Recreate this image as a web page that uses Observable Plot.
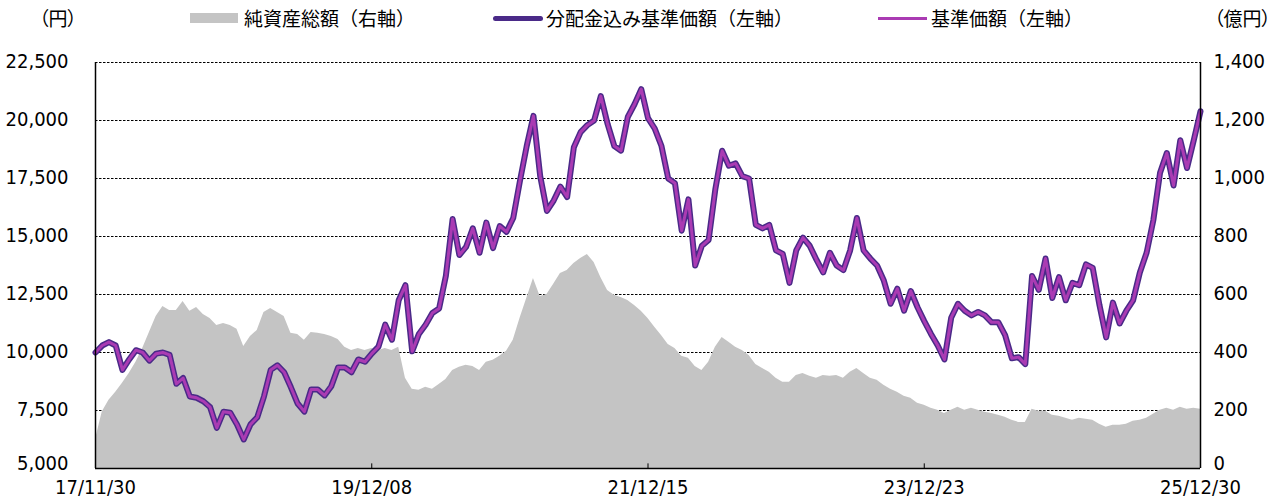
<!DOCTYPE html>
<html>
<head>
<meta charset="utf-8">
<script src="https://cdn.jsdelivr.net/npm/d3@7"></script>
<script src="https://cdn.jsdelivr.net/npm/@observablehq/plot@0.6"></script>
<style>
  body { margin: 0; background: #fff; width: 1274px; height: 499px; overflow: hidden;
         font-family: "Noto Sans CJK JP", sans-serif; }
  #legend { position: relative; height: 36px; width: 1274px; font-size: 19px; color: #000; }
  #legend span { position: absolute; top: 0; line-height: 36px; white-space: nowrap; }
  #legend span.unit { font-feature-settings: "palt"; }
  #legend i { position: absolute; display: block; }
</style>
</head>
<body>
<div id="legend">
  <span class="unit" style="left:39px">（円）</span>
  <i style="left:190px;top:13px;width:48px;height:10px;background:#c4c4c4"></i>
  <span style="left:244px">純資産総額（右軸）</span>
  <i style="left:493px;top:15.5px;width:50px;height:5px;background:#4a2a88;border-radius:2.5px"></i>
  <span style="left:546px">分配金込み基準価額（左軸）</span>
  <i style="left:878px;top:16.5px;width:49px;height:3px;background:#aa3bb3"></i>
  <span style="left:931px">基準価額（左軸）</span>
  <span class="unit" style="left:1214px">（億円）</span>
</div>
<div id="chart"></div>
<script>
// ---- data (one value every 18 days from 2017-11-30) ----
const startDate = "2017-11-30";
const stepDays = 18;

// 分配金込み基準価額（円）
const navWithDist = [
  10000,10300,10450,10300,9250,9700,10100,10000,9650,9950,
  10000,9900,8650,8900,8100,8050,7900,7650,6750,7450,
  7400,6900,6250,6900,7200,8100,9250,9450,9150,8500,
  7800,7450,8400,8400,8150,8550,9350,9350,9150,9700,
  9600,9950,10250,11200,10550,12250,12900,10050,10800,11200,
  11700,11900,13300,15750,14200,14550,15350,14300,15600,14500,
  15450,15200,15800,17400,18900,20200,17600,16100,16550,17150,
  16700,18850,19500,19800,20000,21050,19850,18900,18700,20150,
  20700,21350,20100,19650,18900,17500,17300,15250,16600,13750,
  14600,14850,17050,18700,18050,18150,17600,17500,15500,15350,
  15500,14400,14250,13000,14400,14950,14600,14000,13450,14300,
  13750,13550,14400,15800,14400,14050,13750,13100,12100,12750,
  11800,12650,11950,11350,10800,10300,9700,11500,12100,11800,
  11600,11750,11600,11300,11300,10750,9750,9800,9500,13300,
  12700,14050,12350,13250,12250,13000,12900,13800,13650,12050,
  10650,12150,11250,11800,12250,13450,14300,15700,17750,18600,
  17200,19150,17950,19150,20400
];

// 基準価額（円） — coincides with the line above in the reference
const navBase = [
  10000,10300,10450,10300,9250,9700,10100,10000,9650,9950,
  10000,9900,8650,8900,8100,8050,7900,7650,6750,7450,
  7400,6900,6250,6900,7200,8100,9250,9450,9150,8500,
  7800,7450,8400,8400,8150,8550,9350,9350,9150,9700,
  9600,9950,10250,11200,10550,12250,12900,10050,10800,11200,
  11700,11900,13300,15750,14200,14550,15350,14300,15600,14500,
  15450,15200,15800,17400,18900,20200,17600,16100,16550,17150,
  16700,18850,19500,19800,20000,21050,19850,18900,18700,20150,
  20700,21350,20100,19650,18900,17500,17300,15250,16600,13750,
  14600,14850,17050,18700,18050,18150,17600,17500,15500,15350,
  15500,14400,14250,13000,14400,14950,14600,14000,13450,14300,
  13750,13550,14400,15800,14400,14050,13750,13100,12100,12750,
  11800,12650,11950,11350,10800,10300,9700,11500,12100,11800,
  11600,11750,11600,11300,11300,10750,9750,9800,9500,13300,
  12700,14050,12350,13250,12250,13000,12900,13800,13650,12050,
  10650,12150,11250,11800,12250,13450,14300,15700,17750,18600,
  17200,19150,17950,19150,20400
];

// 純資産総額（億円）
const netAssets = [
  100,195,235,263,294,328,366,414,469,524,
  559,545,545,576,542,555,531,517,493,500,
  493,480,421,455,476,538,552,538,524,466,
  462,442,469,466,462,455,445,418,407,414,
  407,414,407,414,407,418,311,273,270,280,
  273,290,307,338,349,356,352,338,366,373,
  387,404,442,517,586,655,593,600,635,672,
  683,707,724,738,710,659,614,597,590,579,
  562,542,517,487,459,428,414,387,380,352,
  338,366,418,452,435,418,407,390,359,345,
  332,311,297,297,321,328,318,311,321,318,
  321,311,332,345,328,311,304,287,273,263,
  249,242,225,218,208,201,190,201,211,201,
  208,201,194,190,184,177,166,159,159,204,
  197,197,184,180,173,166,173,170,166,153,
  142,149,149,153,163,166,173,187,201,208,
  201,211,204,208,204
];

const xTickLabels = ["2017-11-30", "2019-12-08", "2021-12-15", "2023-12-23", "2025-12-30"];
const leftTicks = [5000, 7500, 10000, 12500, 15000, 17500, 20000, 22500];
const rightTicks = [0, 200, 400, 600, 800, 1000, 1200, 1400];

// ---- build ----
const leftMin = leftTicks[0], leftMax = leftTicks[leftTicks.length - 1];
const rightMax = rightTicks[rightTicks.length - 1];
const toLeft = v => leftMin + v * (leftMax - leftMin) / rightMax;
const toRight = v => (v - leftMin) * rightMax / (leftMax - leftMin);

const start = new Date(startDate);
const rows = navWithDist.map((v, i) => ({
  date: d3.utcDay.offset(start, i * stepDays),
  nav: v,
  base: navBase[i],
  assets: toLeft(netAssets[i])
}));
const tickDates = xTickLabels.map(d => new Date(d));
const fmt = d3.format(",");
const rightFmt = v => fmt(Math.round(toRight(v)));
const TICKFONT = '"DejaVu Sans Condensed", "DejaVu Sans", sans-serif';
const leftOpts = { tickSize: 0, tickPadding: 27, tickFormat: fmt, label: null, fontSize: 20, fill: "#000" };
const rightOpts = { anchor: "right", tickSize: 0, tickPadding: 13, tickFormat: rightFmt, label: null, fontSize: 20, fill: "#000" };

const chart = Plot.plot({
  width: 1274,
  height: 463,
  marginLeft: 95,
  marginRight: 74,
  marginTop: 26,
  marginBottom: 31,
  style: { fontFamily: TICKFONT, fontSize: "20px", fontStretch: "condensed", color: "#000",
           background: "#fff", overflow: "visible" },
  x: { type: "utc", domain: [tickDates[0], tickDates[tickDates.length - 1]] },
  y: { domain: [leftMin, leftMax] },
  marks: [
    Plot.ruleY(leftTicks.slice(1), { stroke: "#000", strokeWidth: 1, strokeDasharray: "2.5,1.5" }),
    Plot.areaY(rows, { x: "date", y1: leftMin, y2: "assets", fill: "#c4c4c4" }),
    Plot.lineY(rows, { x: "date", y: "nav", stroke: "#4a2a88", strokeWidth: 6, strokeLinejoin: "round" }),
    Plot.lineY(rows, { x: "date", y: "base", stroke: "#aa3bb3", strokeWidth: 3, strokeLinejoin: "round" }),
    Plot.ruleX(tickDates.slice(1, -1), { y1: leftMin, y2: leftMin + 200, stroke: "#000", strokeWidth: 1 }),
    Plot.ruleX([tickDates[0], tickDates[tickDates.length - 1]], { stroke: "#000", strokeWidth: 1.5 }),
    Plot.ruleY([leftMin], { stroke: "#000", strokeWidth: 1.5 }),
    Plot.axisY({ ...leftOpts, ticks: leftTicks.slice(1), dy: -1 }),
    Plot.axisY({ ...leftOpts, ticks: leftTicks.slice(0, 1), dy: -4.5 }),
    Plot.axisY({ ...rightOpts, ticks: rightTicks.slice(1).map(toLeft), dy: -1 }),
    Plot.axisY({ ...rightOpts, ticks: rightTicks.slice(0, 1).map(toLeft), dy: -4.5 }),
    Plot.axisX({ ticks: tickDates, tickSize: 0, tickPadding: 11.5, tickFormat: d3.utcFormat("%y/%m/%d"),
                 label: null, fontSize: 20, fill: "#000" })
  ]
});
document.getElementById("chart").appendChild(chart);
</script>
</body>
</html>
